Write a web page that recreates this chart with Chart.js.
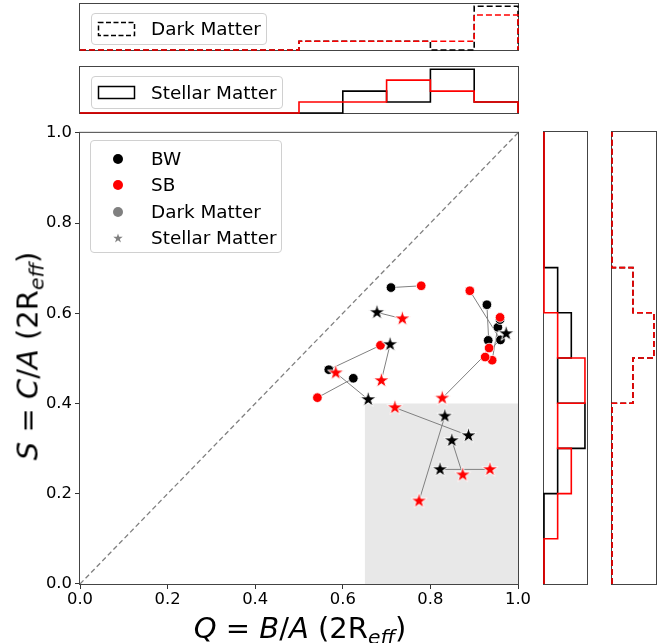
<!DOCTYPE html>
<html><head><meta charset="utf-8">
<script src="https://cdn.jsdelivr.net/npm/chart.js@4.4.0/dist/chart.umd.min.js"></script>
<style>
html,body{margin:0;padding:0;background:#fff;}
#wrap{position:relative;width:663px;height:643px;overflow:hidden;font-family:"DejaVu Sans",sans-serif;color:#000;background:#fff;}
canvas.c{position:absolute;}
.lbl{position:absolute;white-space:nowrap;font-size:29px;line-height:1;}
.lbl sub{font-size:70%;vertical-align:-0.3em;line-height:0;}
.leg{position:absolute;border:1px solid #d0d0d0;border-radius:4px;background:rgba(255,255,255,0.8);box-sizing:border-box;font-size:18.4px;}
.leg .t{position:absolute;line-height:1;white-space:nowrap;transform:translateY(-50%);}
.leg .m{position:absolute;transform:translate(-50%,-50%);}
</style></head>
<body><div id="wrap">
<canvas class="c" id="topDM" width="535" height="60" style="left:0;top:0"></canvas>
<canvas class="c" id="topST" width="535" height="60" style="left:0;top:60px"></canvas>
<canvas class="c" id="main" width="535" height="523" style="left:0;top:120px"></canvas>
<canvas class="c" id="rightST" width="60" height="523" style="left:535px;top:120px"></canvas>
<canvas class="c" id="rightDM" width="63" height="523" style="left:600px;top:120px"></canvas>

<div class="leg" style="left:91px;top:13px;width:176px;height:32px;">
  <svg class="m" style="left:25px;top:15px" width="40" height="16"><rect x="1.5" y="1.5" width="36" height="13" fill="none" stroke="#000" stroke-width="1.5" stroke-dasharray="5,2.5"/></svg>
  <span class="t" style="left:59px;top:15px">Dark Matter</span>
</div>
<div class="leg" style="left:91px;top:76px;width:192px;height:33px;">
  <svg class="m" style="left:25px;top:16px" width="40" height="16"><rect x="1.5" y="1.5" width="36" height="12" fill="none" stroke="#000" stroke-width="1.5"/></svg>
  <span class="t" style="left:59px;top:16px">Stellar Matter</span>
</div>
<div class="leg" id="mainLeg" style="left:90px;top:140px;width:192px;height:113px;">
  <svg class="m" style="left:27px;top:17.7px" width="12" height="12"><circle cx="6" cy="6" r="5" fill="#000"/></svg>
  <span class="t" style="left:60px;top:17.7px">BW</span>
  <svg class="m" style="left:27px;top:44.3px" width="12" height="12"><circle cx="6" cy="6" r="5" fill="#ff0000"/></svg>
  <span class="t" style="left:60px;top:44.3px">SB</span>
  <svg class="m" style="left:27px;top:71px" width="12" height="12"><circle cx="6" cy="6" r="5" fill="#808080"/></svg>
  <span class="t" style="left:60px;top:71px">Dark Matter</span>
  <svg class="m" style="left:27px;top:96.7px" width="12" height="12"><polygon id="legStar" fill="#808080"/></svg>
  <span class="t" style="left:60px;top:96.7px">Stellar Matter</span>
</div>

<div class="lbl" style="left:300px;top:628px;transform:translate(-50%,-50%)"><i>Q</i> = <i>B</i>/<i>A</i> (2R<sub><i>eff</i></sub>)</div>
<div class="lbl" style="left:28px;top:356px;transform:translate(-50%,-50%) rotate(-90deg)"><i>S</i> = <i>C</i>/<i>A</i> (2R<sub><i>eff</i></sub>)</div>
</div>
<script>
// ---------------- data ----------------
// Dark matter shapes (circles), index i = same galaxy, BW and SB versions
const bwDM_Q = [0.710, 0.568, 0.624, 0.929, 0.960, 0.954, 0.959, 0.932];
const bwDM_S = [0.657, 0.475, 0.456, 0.619, 0.541, 0.569, 0.586, 0.540];
const sbDM_Q = [0.779, 0.686, 0.542, 0.934, 0.890, 0.941, 0.959, 0.925];
const sbDM_S = [0.661, 0.529, 0.413, 0.523, 0.650, 0.496, 0.591, 0.503];
// Stellar matter shapes (stars)
const bwST_Q = [0.678, 0.708, 0.658, 0.887, 0.833, 0.849, 0.822, 0.973];
const bwST_S = [0.602, 0.531, 0.409, 0.329, 0.372, 0.318, 0.254, 0.555];
const sbST_Q = [0.736, 0.688, 0.584, 0.719, 0.774, 0.874, 0.936, 0.827];
const sbST_S = [0.588, 0.451, 0.468, 0.391, 0.184, 0.242, 0.254, 0.412];

// histogram bins and counts
const binEdges = [0, 0.1, 0.2, 0.3, 0.4, 0.5, 0.6, 0.7, 0.8, 0.9, 1.0];
const histQ_DM_bw = [0, 0, 0, 0, 0, 1, 1, 1, 0, 5];
const histQ_DM_sb = [0, 0, 0, 0, 0, 1, 1, 1, 1, 4];
const histQ_ST_bw = [0, 0, 0, 0, 0, 0, 2, 1, 4, 1];
const histQ_ST_sb = [0, 0, 0, 0, 0, 1, 1, 3, 2, 1];
const histS_ST_bw = [0, 0, 1, 3, 1, 2, 1, 0, 0, 0];
const histS_ST_sb = [0, 1, 2, 1, 3, 1, 0, 0, 0, 0];
const histS_DM_bw = [0, 0, 0, 0, 2, 4, 2, 0, 0, 0];
const histS_DM_sb = [0, 0, 0, 0, 2, 4, 2, 0, 0, 0];

const axisTicks = [0.0, 0.2, 0.4, 0.6, 0.8, 1.0];
const shadeQmin = 0.65, shadeSmax = 0.4;

// ---------------- helpers ----------------
Chart.defaults.font.family = "'DejaVu Sans', sans-serif";
Chart.defaults.color = '#000';
Chart.defaults.animation = false;
Chart.defaults.plugins.legend.display = false;
Chart.defaults.plugins.tooltip.enabled = false;
Chart.defaults.events = [];

function starPoints(cx, cy, R) {
  const pts = [];
  for (let k = 0; k < 10; k++) {
    const r = (k % 2) ? R * 0.381966 : R;
    const a = -Math.PI / 2 + k * Math.PI / 5;
    pts.push([cx + r * Math.cos(a), cy + r * Math.sin(a)]);
  }
  return pts;
}
function makeStar(color, R, edge) {
  const s = Math.ceil(2 * R + 2 * edge + 2);
  const c = document.createElement('canvas');
  c.width = s; c.height = s;
  const g = c.getContext('2d');
  g.beginPath();
  starPoints(s / 2, s / 2, R).forEach((p, i) => i ? g.lineTo(p[0], p[1]) : g.moveTo(p[0], p[1]));
  g.closePath();
  g.fillStyle = color; g.fill();
  g.strokeStyle = '#fff'; g.lineWidth = edge; g.stroke();
  return c;
}
document.getElementById('legStar').setAttribute('points',
  starPoints(6, 6.4, 5).map(p => p[0].toFixed(2) + ',' + p[1].toFixed(2)).join(' '));

const boxBefore = { id: 'boxBefore', beforeDatasetsDraw(chart, args, opts) {
  if (!opts.on) return;
  const a = chart.chartArea, c = chart.ctx;
  c.save(); c.strokeStyle = '#444'; c.lineWidth = 1;
  c.strokeRect(a.left - 0.5, a.top - 0.5, a.right - a.left + 1, a.bottom - a.top + 1);
  c.restore();
}};
const boxAfter = { id: 'boxAfter', afterDatasetsDraw(chart, args, opts) {
  if (!opts.on) return;
  const a = chart.chartArea, c = chart.ctx;
  c.save(); c.strokeStyle = '#444'; c.lineWidth = 1;
  c.strokeRect(a.left - 0.5, a.top - 0.5, a.right - a.left + 1, a.bottom - a.top + 1);
  c.restore();
}};

// step outline points: horizontal (value along x) or vertical (value along y)
function stepPts(counts, vertical) {
  const pts = [];
  const P = (v, c) => vertical ? { x: c, y: v } : { x: v, y: c };
  pts.push(P(binEdges[0], 0));
  counts.forEach((c, i) => { pts.push(P(binEdges[i], c)); pts.push(P(binEdges[i + 1], c)); });
  pts.push(P(binEdges[binEdges.length - 1], 0));
  return pts;
}
function histChart(id, countsBW, countsSB, vertical, cmax, dashed, pad) {
  const mk = (counts, color, order) => ({
    data: stepPts(counts, vertical), showLine: true, borderColor: color, borderWidth: 1.6,
    borderDash: dashed ? [6, 3] : [], pointRadius: 0, fill: false, tension: 0, order: order, clip: 3
  });
  const valScale = { type: 'linear', min: 0, max: 1, display: false };
  const cntScale = { type: 'linear', min: 0, max: cmax, display: false };
  new Chart(document.getElementById(id), {
    type: 'scatter',
    data: { datasets: [mk(countsSB, '#ff0000', 1), mk(countsBW, '#000000', 2)] },
    options: {
      responsive: false, maintainAspectRatio: false,
      layout: { padding: pad },
      scales: vertical ? { x: cntScale, y: valScale } : { x: valScale, y: cntScale },
      plugins: { boxBefore: { on: true }, boxAfter: { on: false } }
    },
    plugins: [boxBefore, boxAfter]
  });
}

histChart('topDM', histQ_DM_bw, histQ_DM_sb, false, 5.25, true, { left: 80, right: 17, top: 4, bottom: 10 });
histChart('topST', histQ_ST_bw, histQ_ST_sb, false, 4.2, false, { left: 80, right: 17, top: 7, bottom: 7 });
histChart('rightST', histS_ST_bw, histS_ST_sb, true, 3.15, false, { left: 9, right: 8, top: 12, bottom: 59 });
histChart('rightDM', histS_DM_bw, histS_DM_sb, true, 4.2, true, { left: 12, right: 7, top: 12, bottom: 59 });

// ---------------- main scatter ----------------
const starBlack = makeStar('#000000', 8.4, 1);
const starRed = makeStar('#ff0000', 8.4, 1);
const pts = (qs, ss) => qs.map((q, i) => ({ x: q, y: ss[i] }));

const mainSets = [];
mainSets.push({ data: [{ x: shadeQmin, y: shadeSmax }, { x: 1, y: shadeSmax }], showLine: true,
  fill: 'origin', backgroundColor: '#e8e8e8', borderWidth: 0, pointRadius: 0, order: 10 });
mainSets.push({ data: [{ x: 0, y: 0 }, { x: 1, y: 1 }], showLine: true, borderColor: '#808080',
  borderWidth: 1.3, borderDash: [5, 3], pointRadius: 0, order: 9 });
for (let i = 0; i < bwDM_Q.length; i++) {
  mainSets.push({ data: [{ x: bwDM_Q[i], y: bwDM_S[i] }, { x: sbDM_Q[i], y: sbDM_S[i] }], showLine: true,
    borderColor: '#808080', borderWidth: 1, pointRadius: 0, order: 8 });
}
for (let i = 0; i < bwST_Q.length; i++) {
  mainSets.push({ data: [{ x: bwST_Q[i], y: bwST_S[i] }, { x: sbST_Q[i], y: sbST_S[i] }], showLine: true,
    borderColor: '#808080', borderWidth: 1, pointRadius: 0, order: 8 });
}
mainSets.push({ label: 'BW Dark Matter', data: pts(bwDM_Q, bwDM_S), pointStyle: 'circle', pointRadius: 4.8,
  backgroundColor: '#000', borderColor: '#fff', borderWidth: 0.8, order: 4 });
mainSets.push({ label: 'SB Dark Matter', data: pts(sbDM_Q, sbDM_S), pointStyle: 'circle', pointRadius: 4.8,
  backgroundColor: '#ff0000', borderColor: '#fff', borderWidth: 0.8, order: 3 });
mainSets.push({ label: 'BW Stellar Matter', data: pts(bwST_Q, bwST_S), pointStyle: starBlack, pointRadius: 8, order: 2 });
mainSets.push({ label: 'SB Stellar Matter', data: pts(sbST_Q, sbST_S), pointStyle: starRed, pointRadius: 8, order: 1 });

const tickBase = {
  font: { size: 16.4 }, color: '#000', maxRotation: 0, autoSkip: false,
  callback: v => Number(v).toFixed(1)
};
new Chart(document.getElementById('main'), {
  type: 'scatter',
  data: { datasets: mainSets },
  options: {
    responsive: false, maintainAspectRatio: false,
    layout: { padding: { left: 0, right: 17, top: 12, bottom: 0 } },
    scales: {
      x: { type: 'linear', min: 0, max: 1,
        afterBuildTicks: s => { s.ticks = axisTicks.map(v => ({ value: v })); },
        ticks: Object.assign({}, tickBase, { padding: 1 }),
        grid: { drawOnChartArea: false, drawTicks: true, tickLength: 5, color: '#333', lineWidth: 1 },
        border: { display: false },
        afterFit: s => { s.height = 59; } },
      y: { type: 'linear', min: 0, max: 1,
        afterBuildTicks: s => { s.ticks = axisTicks.map(v => ({ value: v })); },
        ticks: Object.assign({}, tickBase, { padding: 3 }),
        grid: { drawOnChartArea: false, drawTicks: true, tickLength: 5, color: '#333', lineWidth: 1 },
        border: { display: false },
        afterFit: s => { s.width = 80; } }
    },
    plugins: { boxBefore: { on: false }, boxAfter: { on: true } }
  },
  plugins: [boxBefore, boxAfter]
});
</script>
</body></html>
